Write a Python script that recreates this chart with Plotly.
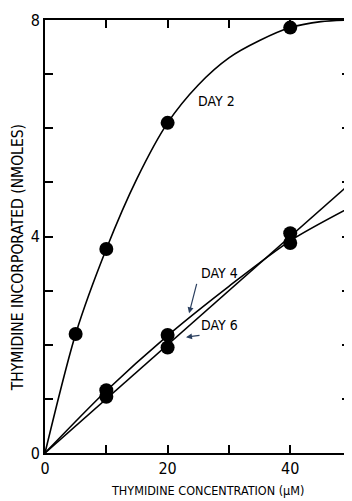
import plotly.graph_objects as go

# Measured points
conc_day2 = [5, 10, 20, 40]
day2 = [2.2, 3.77, 6.1, 7.86]
conc_day46 = [10, 20, 40]
day4 = [1.16, 2.18, 3.88]
day6 = [1.04, 1.95, 4.06]

# Drawn curves
day2_curve_x = [0, 5, 10, 15, 20, 25, 30, 35, 40, 45, 50]
day2_curve_y = [0, 2.2, 3.77, 5.07, 6.1, 6.8, 7.3, 7.62, 7.86, 7.97, 8.0]
day4_curve_x = [0, 10, 20, 30, 40, 50]
day4_curve_y = [0, 1.15, 2.17, 3.08, 3.92, 4.55]
day6_curve_x = [0, 50]
day6_curve_y = [0, 5.0]

x_tickvals = [0, 10, 20, 30, 40]
x_ticktext = ["0", "", "20", "", "40"]
y_tickvals = [0, 1, 2, 3, 4, 5, 6, 7, 8]
y_ticktext = ["0", "", "", "", "4", "", "", "", "8"]

FONT = "DejaVu Sans Condensed, Liberation Sans Narrow, sans-serif"

fig = go.Figure()
line_style = dict(color="black", width=1.6)
fig.add_trace(go.Scatter(x=day2_curve_x, y=day2_curve_y, mode="lines",
                         line=dict(shape="spline", smoothing=0.8, **line_style),
                         showlegend=False, hoverinfo="skip"))
fig.add_trace(go.Scatter(x=day4_curve_x, y=day4_curve_y, mode="lines",
                         line=dict(shape="spline", smoothing=0.8, **line_style),
                         showlegend=False, hoverinfo="skip"))
fig.add_trace(go.Scatter(x=day6_curve_x, y=day6_curve_y, mode="lines",
                         line=line_style, showlegend=False, hoverinfo="skip"))
marker = dict(color="black", size=14)
fig.add_trace(go.Scatter(x=conc_day2, y=day2, mode="markers", marker=marker,
                         name="Day 2", showlegend=False))
fig.add_trace(go.Scatter(x=conc_day46, y=day4, mode="markers", marker=marker,
                         name="Day 4", showlegend=False))
fig.add_trace(go.Scatter(x=conc_day46, y=day6, mode="markers", marker=marker,
                         name="Day 6", showlegend=False))

axis_common = dict(showline=True, linecolor="black", linewidth=2, mirror="ticks",
                   ticks="inside", ticklen=8, tickwidth=1.5, tickcolor="black",
                   showgrid=False, zeroline=False,
                   tickfont=dict(family=FONT, size=16, color="black"))
fig.update_xaxes(range=[0, 49.75], tickmode="array", tickvals=x_tickvals,
                 ticktext=x_ticktext, **axis_common)
fig.update_yaxes(range=[0, 8], tickmode="array", tickvals=y_tickvals,
                 ticktext=y_ticktext, **axis_common)

txt = dict(family=FONT, size=14, color="black")
fig.add_annotation(x=28.0, y=6.5, text="DAY 2", showarrow=False, font=txt)
fig.add_annotation(x=28.4, y=3.33, text="DAY 4", showarrow=False, font=txt)
fig.add_annotation(x=28.4, y=2.36, text="DAY 6", showarrow=False, font=txt)
fig.add_annotation(x=23.5, y=2.58, text="", showarrow=True, arrowhead=2,
                   arrowsize=1, arrowwidth=1.2, ax=8, ay=-31, standoff=0)
fig.add_annotation(x=23.0, y=2.14, text="", showarrow=True, arrowhead=2,
                   arrowsize=1, arrowwidth=1.2, ax=15, ay=-2, standoff=0)

fig.add_annotation(xref="paper", yref="paper", x=0.534, y=0, yshift=-37,
                   yanchor="middle", xanchor="center",
                   text="THYMIDINE CONCENTRATION (μM)", showarrow=False,
                   font=dict(family=FONT, size=12.5, color="black"))
fig.add_annotation(xref="paper", yref="paper", x=0, xshift=-27, y=0.45,
                   xanchor="center", yanchor="middle",
                   text="THYMIDINE INCORPORATED (NMOLES)", textangle=-90,
                   showarrow=False, font=dict(family=FONT, size=15.5, color="black"))

# page body adds an 8px offset, so the figure is sized/margined to compensate
fig.update_layout(width=344, height=493, margin=dict(l=37, r=0, t=12, b=48),
                  paper_bgcolor="white", plot_bgcolor="white")
fig.write_html("out.html")
